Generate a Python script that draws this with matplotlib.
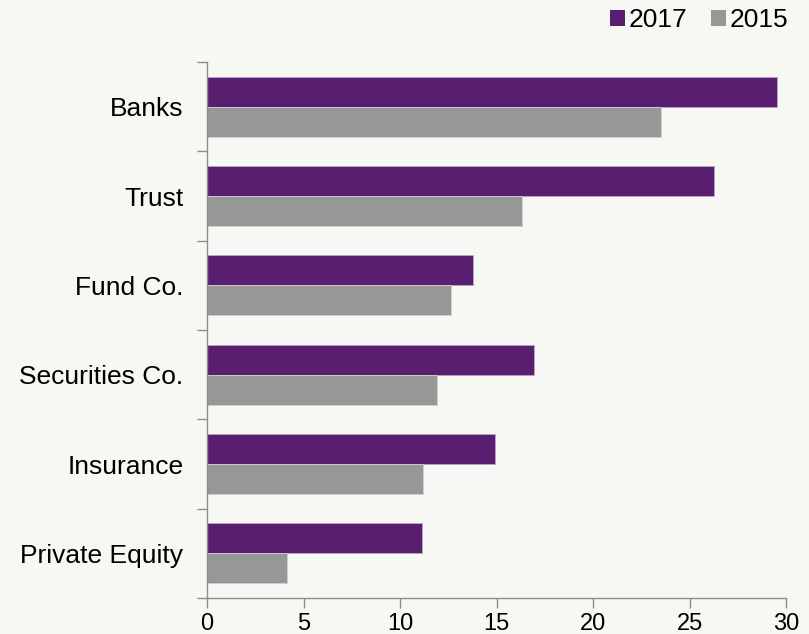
import matplotlib
matplotlib.use("Agg")
import matplotlib.pyplot as plt
from matplotlib.patches import Patch
import numpy as np

categories = ["Banks", "Trust", "Fund Co.", "Securities Co.", "Insurance", "Private Equity"]
values_2017 = [29.55, 26.27, 13.76, 16.92, 14.93, 11.12]
values_2015 = [23.51, 16.32, 12.62, 11.92, 11.18, 4.16]
x_ticks = [0, 5, 10, 15, 20, 25, 30]

PURPLE = "#5A1E71"
GRAY = "#979797"
BG = "#F7F7F3"
AXIS = "#8C8C8C"

plt.rcParams["font.family"] = ["Liberation Sans", "DejaVu Sans"]

fig = plt.figure(figsize=(8.09, 6.34), dpi=100, facecolor=BG)
ax = fig.add_axes([207 / 809, 36 / 634, 579 / 809, 536 / 634], facecolor=BG)

y = np.arange(len(categories))
h = 0.335
ax.barh(y - h / 2, values_2017, height=h, color=PURPLE, edgecolor="#B9A6C4", linewidth=0.6)
ax.barh(y + h / 2, values_2015, height=h, color=GRAY, edgecolor="#D0D0D0", linewidth=0.6)

ax.set_xlim(0, 30)
ax.set_ylim(len(categories) - 0.5, -0.5)
ax.set_xticks(x_ticks)
ax.set_xticklabels([str(t) for t in x_ticks])
ax.set_yticks(y)
ax.set_yticklabels(categories)
ax.set_yticks(np.arange(len(categories) + 1) - 0.5, minor=True)

for side in ("top", "right"):
    ax.spines[side].set_visible(False)
for side in ("left", "bottom"):
    ax.spines[side].set_color(AXIS)
    ax.spines[side].set_linewidth(1.0)

ax.tick_params(axis="y", which="major", length=0, pad=17, labelsize=19, labelcolor="black")
ax.tick_params(axis="y", which="minor", length=7, color=AXIS, width=1.0)
ax.tick_params(axis="x", which="major", length=7, color=AXIS, width=1.0, pad=4,
               labelsize=17, labelcolor="black")

handles = [Patch(facecolor=PURPLE, edgecolor="none", label="2017"),
           Patch(facecolor=GRAY, edgecolor="none", label="2015")]
fig.legend(handles=handles, loc="upper right", bbox_to_anchor=(804 / 809, 1.012), ncol=2,
           frameon=False, fontsize=19, handlelength=0.55, handleheight=0.55,
           handletextpad=0.15, columnspacing=0.9, borderaxespad=0.2)

fig.savefig("out.png", dpi=100, facecolor=BG)
